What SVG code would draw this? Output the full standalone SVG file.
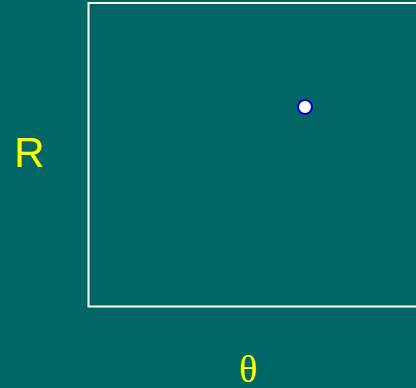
<svg xmlns="http://www.w3.org/2000/svg" width="416" height="388" viewBox="0 0 416 388">
<style>
.lbl{fill:#ffff00}
</style>
<rect x="0" y="0" width="416" height="388" fill="#006666"/>
<g id="frame"><rect x="88.5" y="3" width="340" height="303.5" fill="none" stroke="#ffffff" stroke-width="2"/></g>
<g id="point"><circle cx="305" cy="107" r="7" fill="#ffffff" stroke="#0000cc" stroke-width="2"/></g>
<g id="labelR"><text class="lbl" x="14" y="167" font-family="Liberation Sans, Arial, sans-serif" font-size="42">R</text></g>
<g id="labelTheta"><text class="lbl" x="248" y="382" text-anchor="middle" font-family="Liberation Serif, Times New Roman, serif" font-size="38">θ</text></g>
<g id="connectors"></g>
</svg>
